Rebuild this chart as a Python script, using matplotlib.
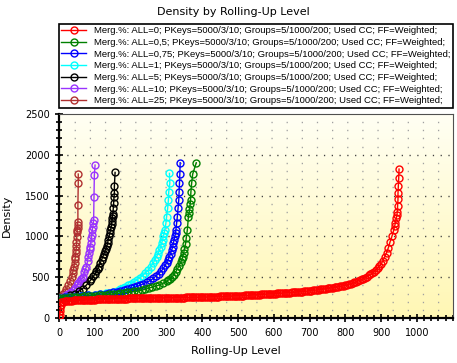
import numpy as np
import matplotlib
matplotlib.use('Agg')
import matplotlib.pyplot as plt
from matplotlib.ticker import MultipleLocator
from matplotlib.colors import LinearSegmentedColormap

# series: rolling-up level (x) and density (y)
red_x = [0, 1, 2, 3, 4, 5, 10, 15, 20, 25,
         30, 35, 40, 45, 50, 55, 60, 65, 70, 75,
         80, 85, 90, 95, 100, 105, 110, 115, 120, 125,
         130, 135, 140, 145, 150, 155, 160, 165, 170, 175,
         180, 185, 190, 195, 200, 205, 210, 215, 220, 225,
         230, 235, 240, 245, 250, 255, 260, 265, 270, 275,
         280, 285, 290, 295, 300, 305, 310, 315, 320, 325,
         330, 335, 340, 345, 350, 355, 360, 365, 370, 375,
         380, 385, 390, 395, 400, 405, 410, 415, 420, 425,
         430, 435, 440, 445, 450, 455, 460, 465, 470, 475,
         480, 485, 490, 495, 500, 505, 510, 515, 520, 525,
         530, 535, 540, 545, 550, 555, 560, 565, 570, 575,
         580, 585, 590, 595, 600, 605, 610, 615, 620, 625,
         630, 635, 640, 645, 650, 655, 660, 665, 670, 675,
         680, 685, 690, 695, 700, 705, 710, 715, 720, 725,
         730, 735, 740, 745, 750, 755, 760, 765, 770, 775,
         780, 785, 790, 795, 800, 805, 810, 815, 820, 825,
         830, 835, 840, 845, 850, 855, 860, 865, 870, 875,
         880, 885, 890, 895, 900, 905, 910, 915, 920, 925,
         930, 935, 938, 940, 942, 944, 945, 946, 947, 947,
         948, 949, 950]
red_y = [10, 40, 80, 120, 160, 190, 200, 204, 208, 210,
         212, 214, 215, 217, 218, 219, 220, 221, 221, 222,
         223, 224, 224, 225, 226, 227, 227, 228, 229, 230,
         230, 231, 232, 232, 233, 234, 234, 235, 235, 236,
         237, 237, 238, 239, 240, 240, 240, 241, 241, 242,
         242, 243, 243, 244, 244, 245, 245, 246, 246, 246,
         246, 247, 247, 248, 248, 249, 249, 249, 249, 250,
         250, 251, 251, 251, 251, 252, 252, 253, 253, 254,
         254, 255, 255, 256, 256, 257, 257, 258, 258, 259,
         260, 261, 262, 263, 264, 265, 266, 267, 268, 269,
         270, 270, 271, 271, 272, 273, 274, 275, 276, 277,
         279, 280, 282, 283, 284, 286, 287, 288, 290, 291,
         293, 294, 296, 297, 298, 300, 301, 302, 304, 305,
         307, 308, 310, 311, 313, 314, 316, 318, 320, 322,
         324, 326, 329, 332, 335, 337, 340, 342, 345, 347,
         350, 353, 356, 359, 362, 364, 367, 371, 376, 380,
         384, 388, 392, 396, 401, 407, 413, 420, 428, 436,
         444, 453, 462, 473, 484, 496, 508, 522, 537, 551,
         566, 588, 610, 637, 665, 700, 750, 800, 860, 935,
         1000, 1075, 1130, 1170, 1220, 1260, 1300, 1372, 1454, 1527,
         1617, 1711, 1825]

green_x = [0, 10, 20, 30, 40, 50, 60, 70, 80, 90,
           100, 110, 120, 130, 140, 150, 160, 170, 180, 190,
           200, 210, 220, 230, 240, 250, 260, 270, 280, 290,
           300, 305, 310, 315, 320, 325, 330, 335, 340,
           343, 345, 348, 350, 353, 355, 358, 361,
           363, 364, 366, 367, 368, 370, 373, 383]
green_y = [245, 248, 250, 253, 255, 258, 261, 264, 268, 272,
           275, 279, 283, 287, 291, 295, 300, 305, 310, 315,
           320, 325, 330, 340, 352, 365, 378, 390, 405, 425,
           450, 465, 480, 505, 530, 560, 600, 640, 690,
           720, 750, 800, 850, 910, 980, 1080, 1240,
           1290, 1330, 1400, 1450, 1547, 1650, 1764, 1903]

blue_x = [0, 20, 40, 60, 80, 100,
          115, 130, 140, 150, 160, 170, 180, 190, 200, 210,
          218, 225, 235, 245, 255, 263, 270, 278, 285, 291,
          296, 300, 304, 308, 311, 314, 317, 319, 321, 323,
          325, 326, 328, 330, 332, 334, 335, 336, 337, 338]
blue_y = [250, 256, 262, 268, 276, 285,
          292, 300, 308, 315, 322, 330, 340, 350, 362, 375,
          388, 400, 420, 440, 460, 486, 515, 545, 575, 608,
          645, 680, 715, 751, 790, 830, 870, 915, 960, 1000,
          1040, 1078, 1160, 1241, 1343, 1445, 1547, 1650, 1764, 1903]

cyan_x = [0, 20, 40, 60, 80, 100,
          115, 130, 140, 150, 160, 170, 177, 184, 192, 200,
          208, 216, 225, 233, 241, 249, 256, 262, 267, 272,
          276, 280, 283, 286, 289, 291, 293, 295, 298, 300,
          303, 305, 306, 309, 308]
cyan_y = [250, 256, 262, 270, 278, 285,
          295, 305, 312, 320, 335, 350, 367, 384, 400, 420,
          440, 465, 490, 520, 555, 588, 630, 670, 710, 751,
          790, 830, 870, 915, 960, 1000, 1040, 1078, 1160, 1241,
          1343, 1445, 1547, 1650, 1772]

black_x = [0, 15, 30, 45, 55, 65, 75, 85, 90, 95, 100, 103, 107, 110, 114, 118, 121, 124, 127,
           130, 133, 135, 137, 139, 141, 143, 145, 146, 147, 148, 149, 150, 151, 152, 153,
           154, 154, 156]
black_y = [245, 260, 280, 300, 330, 360, 400, 450, 480, 510, 540, 570, 600, 630, 670, 710, 745,
           780, 815, 850, 885, 920, 960, 1000, 1040, 1078, 1110, 1150, 1185, 1220, 1250, 1280,
           1350, 1409, 1486, 1527, 1617, 1784]

purple_x = [0, 10, 20, 25, 32, 40, 45, 49, 53, 57, 62, 65, 67, 70, 73, 76, 79, 81, 83, 85, 86,
            88, 90, 91, 92, 94, 95, 96, 97, 98, 100]
purple_y = [245, 260, 280, 290, 315, 340, 370, 404, 425, 450, 480, 495, 506, 560, 600, 628, 700,
            751, 800, 850, 873, 920, 976, 1017, 1078, 1120, 1160, 1200, 1486, 1752, 1874]

brown_x = [0, 5, 10, 16, 20, 25, 30, 35, 37, 39, 41, 43, 44, 45, 46, 47, 48, 48, 49, 50, 50,
           51, 51, 52, 52, 53, 53]
brown_y = [240, 260, 290, 323, 360, 404, 450, 506, 550, 588, 630, 680, 720, 751, 800, 833, 880,
           935, 996, 1050, 1078, 1099, 1140, 1180, 1384, 1650, 1764]

labels_all = ['0', '0,5', '0,75', '1', '5', '10', '25']
colors = ['#ff0000', '#008000', '#0000ff', '#00ffff', '#000000', '#9933ff', '#b03030']
series = [(red_x, red_y), (green_x, green_y), (blue_x, blue_y), (cyan_x, cyan_y),
          (black_x, black_y), (purple_x, purple_y), (brown_x, brown_y)]

fig = plt.figure(figsize=(4.57, 3.63), dpi=100)
ax = fig.add_axes([59.3 / 457, 45 / 363, 393.4 / 457, 204 / 363])

# background gradient white -> pale yellow
cmap = LinearSegmentedColormap.from_list('bg', ['#fffff4', '#fff7b4'])
grad = np.linspace(0, 1, 256).reshape(-1, 1)
ax.imshow(grad, cmap=cmap, aspect='auto', extent=[0, 1, 0, 1],
          transform=ax.transAxes, zorder=0)

ax.set_xlim(0, 1100)
ax.set_ylim(0, 2500)

# grid: dark dotted at 500 steps, sparse light dots at 100 steps
for yv in range(100, 2500, 100):
    if yv % 500 == 0:
        ax.axhline(yv, color='#404040', lw=1, ls=(0, (0.9, 4.7)), zorder=1)
    else:
        ax.axhline(yv, color='#a0a0a0', lw=1, ls=(0, (0.9, 10)), zorder=1)

handles = [None] * len(series)
for i in range(len(series) - 1, -1, -1):
    xs, ys = series[i]
    text = ('Merg.%: ALL=' + labels_all[i] +
            '; PKeys=5000/3/10; Groups=5/1000/200; Used CC; FF=Weighted;')
    ln, = ax.plot(xs, ys, color=colors[i], lw=1, marker='o', ms=5, mfc='none',
                  mew=1, label=text, zorder=3 + (len(series) - i))
    handles[i] = ln

ax.xaxis.set_major_locator(MultipleLocator(100))
ax.xaxis.set_minor_locator(MultipleLocator(20))
ax.yaxis.set_major_locator(MultipleLocator(500))
ax.yaxis.set_minor_locator(MultipleLocator(100))
ax.set_xticks(range(0, 1001, 100))
ax.tick_params(which='major', direction='inout', length=6, width=1.2, labelsize=7, pad=4)
ax.tick_params(which='minor', direction='inout', length=4, width=1.2)

for side in ['left', 'bottom']:
    ax.spines[side].set_linewidth(1.6)
for side in ['top', 'right']:
    ax.spines[side].set_linewidth(0.8)
    ax.spines[side].set_color('#505050')

ax.set_xlabel('Rolling-Up Level', fontsize=8)
ax.set_ylabel('Density', fontsize=8)
ax.xaxis.set_label_coords(0.45, -0.135)
ax.yaxis.set_label_coords(-0.12, 0.5)

fig.text(233 / 457, 1 - 12 / 363, 'Density by Rolling-Up Level', fontsize=8,
         ha='center', va='center')

leg = fig.legend(handles=handles, loc='upper left',
                 bbox_to_anchor=(59 / 457, 1 - 24 / 363), bbox_transform=fig.transFigure,
                 borderaxespad=0, fancybox=False, framealpha=1, edgecolor='black',
                 prop={'family': 'Liberation Sans', 'size': 6.8},
                 handlelength=2.6, handletextpad=0.9, labelspacing=0.28, borderpad=0.25)
leg.get_frame().set_linewidth(1.2)

fig.savefig('out.png', dpi=100)
